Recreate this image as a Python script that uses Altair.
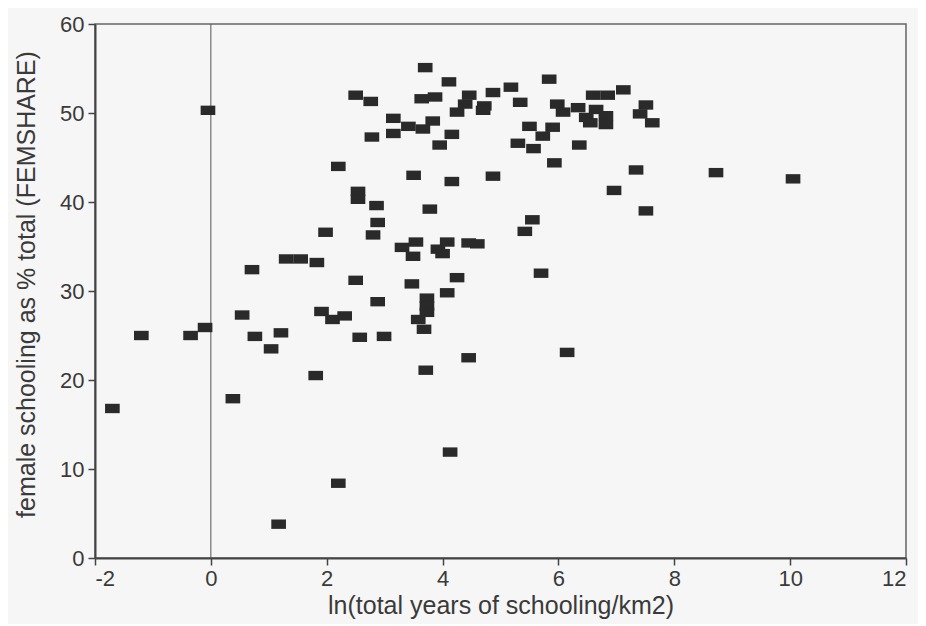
import altair as alt
import pandas as pd

# ln(total years of schooling / km2)
x_vals = [
    -1.7, -1.2, -0.35, -0.1, -0.05, 0.38, 0.54, 0.71, 0.76, 1.04,
    1.17, 1.21, 1.3, 1.55, 1.81, 1.83, 1.91, 1.98, 2.1, 2.2,
    2.2, 2.31, 2.5, 2.5, 2.54, 2.54, 2.57, 2.76, 2.78, 2.8,
    2.86, 2.88, 2.88, 2.99, 3.15, 3.15, 3.3, 3.41, 3.47, 3.5,
    3.54, 3.49, 3.58, 3.64, 3.66, 3.68, 3.7, 3.71, 3.73, 3.73,
    3.73, 3.78, 3.83, 3.87, 3.92, 3.95, 4.0, 4.08, 4.08, 4.11,
    4.13, 4.16, 4.16, 4.25, 4.25, 4.39, 4.46, 4.45, 4.45, 4.6,
    4.72, 4.7, 4.87, 4.87, 5.18, 5.3, 5.34, 5.42, 5.5, 5.55,
    5.57, 5.7, 5.73, 5.84, 5.9, 5.93, 5.98, 6.08, 6.15, 6.34,
    6.36, 6.48, 6.55, 6.6, 6.65, 6.82, 6.82, 6.85, 6.96, 7.12,
    7.34, 7.41, 7.51, 7.51, 7.62, 8.72, 10.05,
]
# female schooling as % of total (FEMSHARE)
y_vals = [
    16.8, 25.0, 25.0, 25.9, 50.3, 17.9, 27.3, 32.4, 24.9, 23.5,
    3.8, 25.3, 33.6, 33.6, 20.5, 33.2, 27.7, 36.6, 26.8, 8.4,
    44.0, 27.2, 31.2, 52.0, 41.2, 40.3, 24.8, 51.3, 47.3, 36.3,
    39.6, 37.7, 28.8, 24.9, 49.4, 47.7, 34.9, 48.5, 30.8, 43.0,
    35.5, 33.9, 26.8, 51.6, 48.2, 25.7, 55.1, 21.1, 29.2, 28.3,
    27.6, 39.2, 49.1, 51.8, 34.7, 46.4, 34.2, 35.5, 29.8, 53.5,
    11.9, 42.3, 47.6, 50.1, 31.5, 51.0, 52.0, 22.5, 35.4, 35.3,
    50.8, 50.3, 52.3, 42.9, 52.9, 46.6, 51.2, 36.7, 48.5, 38.0,
    46.0, 32.0, 47.4, 53.8, 48.4, 44.4, 51.0, 50.1, 23.1, 50.6,
    46.4, 49.5, 48.9, 52.0, 50.4, 49.7, 48.7, 52.0, 41.3, 52.6,
    43.6, 49.9, 50.9, 39.0, 48.9, 43.3, 42.6,
]
x_ticks = [-2, 0, 2, 4, 6, 8, 10, 12]
y_ticks = [0, 10, 20, 30, 40, 50, 60]
zero_line = [0]

df = pd.DataFrame({"x": x_vals, "y": y_vals})
df_rule = pd.DataFrame({"x": zero_line})

rect_shape = "M-1,-0.64L1,-0.64L1,0.64L-1,0.64Z"
xscale = alt.Scale(domain=[-2, 12], nice=False, zero=False)
yscale = alt.Scale(domain=[0, 60], nice=False, zero=False)

axis_common = dict(
    labelFont="Liberation Sans",
    labelFontSize=22,
    labelColor="#3a3a3a",
    labelExpr="'' + datum.value",
    titleFont="Liberation Sans",
    titleFontSize=25,
    titleFontWeight="normal",
    titleColor="#3a3a3a",
    tickColor="#444444",
    tickSize=7,
    tickWidth=1.5,
    domainColor="#444444",
    domainWidth=2,
    grid=False,
)

x_axis = alt.Axis(values=x_ticks, title="ln(total years of schooling/km2)",
                  labelPadding=3, titlePadding=4, **axis_common)
y_axis = alt.Axis(values=y_ticks, title="female schooling as % total (FEMSHARE)",
                  labelPadding=4, titlePadding=20, titleY=260, **axis_common)

rule = alt.Chart(df_rule).mark_rule(color="#555555", strokeWidth=1).encode(
    x=alt.X("x:Q", scale=xscale, axis=x_axis)
)

points = alt.Chart(df).mark_point(
    shape=rect_shape, filled=True, size=215, color="#2a2a2a", opacity=1, strokeWidth=0
).encode(
    x=alt.X("x:Q", scale=xscale, axis=x_axis),
    y=alt.Y("y:Q", scale=yscale, axis=y_axis),
)

chart = alt.layer(rule, points).properties(
    width=811,
    height=534,
    padding={"left": 87, "top": 16, "right": 12, "bottom": 66},
    autosize=alt.AutoSizeParams(type="none"),
    background="#f6f6f6",
).configure_view(stroke="#666666", strokeWidth=1.5)

chart.save("out.html", embed_options={"renderer": "svg", "actions": False})
